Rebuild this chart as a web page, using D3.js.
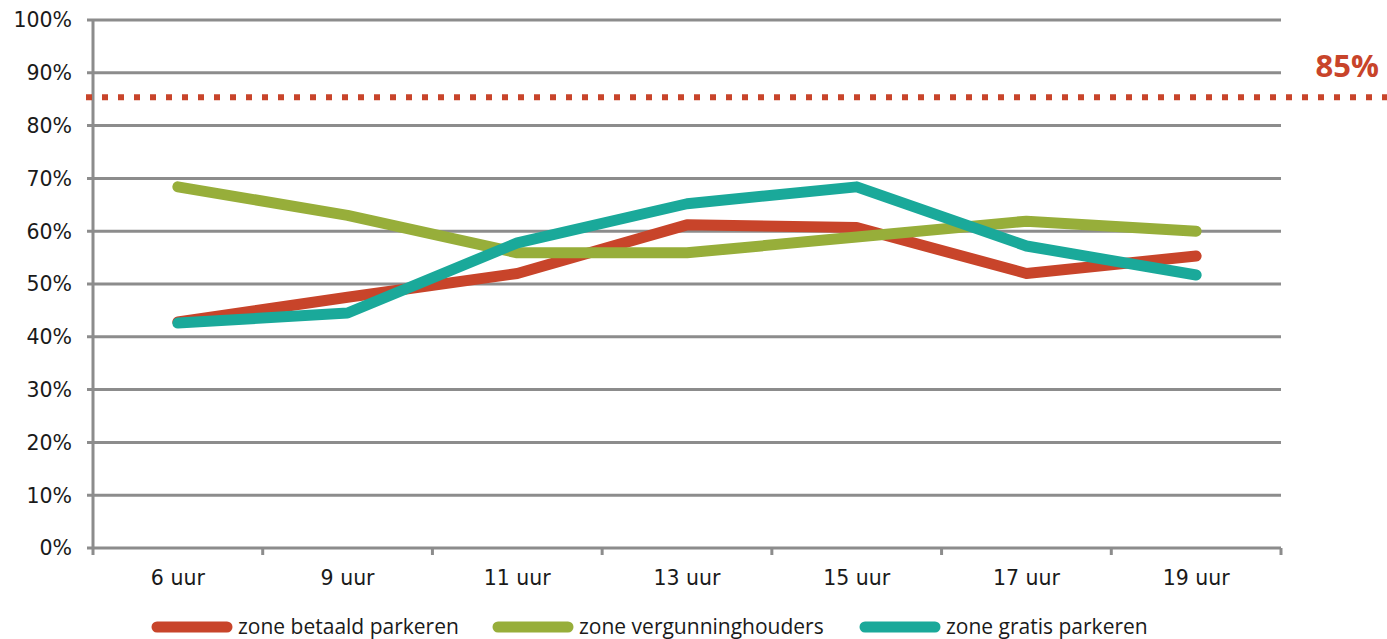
<!DOCTYPE html>
<html>
<head>
<meta charset="utf-8">
<script src="https://cdn.jsdelivr.net/npm/d3@7"></script>
<style>
  body { margin: 0; background: #fff; }
  svg { display: block; }
</style>
</head>
<body>
<div id="chart"></div>
<script>
var width = 1387;
var height = 639;

var categories = ["6 uur", "9 uur", "11 uur", "13 uur", "15 uur", "17 uur", "19 uur"];
var yTicks = [0, 10, 20, 30, 40, 50, 60, 70, 80, 90, 100];
var betaald = [42.8, 47.5, 52.0, 61.2, 60.7, 52.0, 55.3];
var vergunning = [68.4, 63.0, 55.9, 55.9, 58.9, 61.9, 60.0];
var gratis = [42.6, 44.5, 57.8, 65.2, 68.4, 57.2, 51.7];
var seriesNames = ["zone betaald parkeren", "zone vergunninghouders", "zone gratis parkeren"];
var seriesColors = ["#c8442a", "#97ae3a", "#1aa99a"];
var target = 85;

var series = [betaald, vergunning, gratis];

var margin = {left: 93, right: 106, top: 20, bottom: 91};

var svg = d3.select("#chart").append("svg")
    .attr("width", width)
    .attr("height", height);

var x = d3.scaleBand()
    .domain(categories)
    .range([margin.left, width - margin.right]);

var y = d3.scaleLinear()
    .domain([0, 100])
    .range([height - margin.bottom, margin.top]);

var gridColor = "#8c8c8c";

// horizontal grid lines + y labels
svg.append("g")
    .selectAll("line")
    .data(yTicks)
    .enter()
    .append("line")
    .attr("x1", margin.left - 6)
    .attr("x2", width - margin.right)
    .attr("y1", d => y(d))
    .attr("y2", d => y(d))
    .attr("stroke", gridColor)
    .attr("stroke-width", 3);

svg.append("g")
    .selectAll("text")
    .data(yTicks)
    .enter()
    .append("text")
    .attr("x", 72)
    .attr("y", d => y(d))
    .attr("dy", "0.36em")
    .attr("text-anchor", "end")
    .attr("font-family", "DejaVu Sans, Verdana, sans-serif")
    .attr("font-size", 20.5)
    .attr("fill", "#1a1a1a")
    .text(d => d + "%");

// y axis line
svg.append("line")
    .attr("x1", margin.left).attr("x2", margin.left)
    .attr("y1", y(100)).attr("y2", y(0) + 7)
    .attr("stroke", gridColor)
    .attr("stroke-width", 3);

// x axis ticks at band boundaries
var bounds = categories.map(c => x(c)).concat([x.range()[1]]);
svg.append("g")
    .selectAll("line")
    .data(bounds.slice(1))
    .enter()
    .append("line")
    .attr("x1", d => d).attr("x2", d => d)
    .attr("y1", y(0)).attr("y2", y(0) + 7)
    .attr("stroke", gridColor)
    .attr("stroke-width", 3);

svg.append("g")
    .selectAll("text")
    .data(categories)
    .enter()
    .append("text")
    .attr("x", d => x(d) + x.bandwidth() / 2)
    .attr("y", 585)
    .attr("text-anchor", "middle")
    .attr("font-family", "DejaVu Sans, Verdana, sans-serif")
    .attr("font-size", 20.5)
    .attr("fill", "#1a1a1a")
    .text(d => d);

// 85% target line
svg.append("line")
    .attr("x1", margin.left - 7)
    .attr("x2", width)
    .attr("y1", y(target) - 2)
    .attr("y2", y(target) - 2)
    .attr("stroke", "#c8442a")
    .attr("stroke-width", 6)
    .attr("stroke-dasharray", "6,10");

svg.append("text")
    .attr("x", 1379)
    .attr("y", 77)
    .attr("text-anchor", "end")
    .attr("font-family", "Open Sans, sans-serif")
    .attr("font-weight", "bold")
    .attr("font-size", 31)
    .attr("fill", "#c8442a")
    .text(target + "%");

// series lines
var line = d3.line()
    .x((d, i) => x(categories[i]) + x.bandwidth() / 2)
    .y(d => y(d));

svg.append("g")
    .selectAll("path")
    .data(series)
    .enter()
    .append("path")
    .attr("d", d => line(d))
    .attr("fill", "none")
    .attr("stroke", (d, i) => seriesColors[i])
    .attr("stroke-width", 11)
    .attr("stroke-linecap", "round")
    .attr("stroke-linejoin", "round");

// legend
var legendX = [157, 498, 865];
var legend = svg.append("g")
    .selectAll("g")
    .data(seriesNames)
    .enter()
    .append("g")
    .attr("transform", (d, i) => "translate(" + legendX[i] + ",627)");

legend.append("line")
    .attr("x1", 0).attr("x2", 70)
    .attr("y1", 0).attr("y2", 0)
    .attr("stroke", (d, i) => seriesColors[i])
    .attr("stroke-width", 11)
    .attr("stroke-linecap", "round");

legend.append("text")
    .attr("x", 81)
    .attr("y", 7)
    .attr("font-family", "Open Sans, sans-serif")
    .attr("font-size", 21)
    .attr("fill", "#1a1a1a")
    .text(d => d);
</script>
</body>
</html>
